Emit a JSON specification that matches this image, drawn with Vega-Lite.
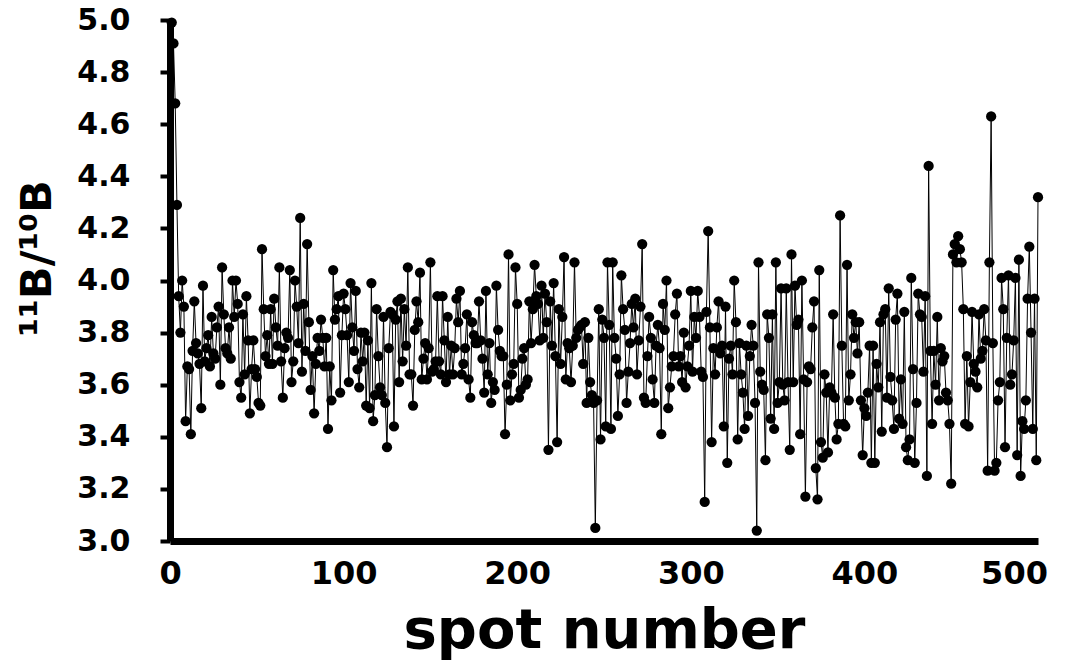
{
"$schema":"https://vega.github.io/schema/vega-lite/v6.json",
"width":868,"height":521,"autosize":"none",
"padding":{"left":170,"top":20,"right":39,"bottom":123},
"config":{"view":{"stroke":null},"font":"DejaVu Sans"},
"data":{"values":[
{"spot":1,"ratio":4.99},{"spot":2,"ratio":4.91},{"spot":3,"ratio":4.68},{"spot":4,"ratio":4.29},{"spot":5,"ratio":3.94},{"spot":6,"ratio":3.80},{"spot":7,"ratio":4.00},{"spot":8,"ratio":3.90},{"spot":9,"ratio":3.46},{"spot":10,"ratio":3.67},
{"spot":11,"ratio":3.66},{"spot":12,"ratio":3.41},{"spot":13,"ratio":3.73},{"spot":14,"ratio":3.92},{"spot":15,"ratio":3.76},{"spot":16,"ratio":3.72},{"spot":17,"ratio":3.68},{"spot":18,"ratio":3.51},{"spot":19,"ratio":3.98},{"spot":20,"ratio":3.69},
{"spot":21,"ratio":3.74},{"spot":22,"ratio":3.79},{"spot":23,"ratio":3.67},{"spot":24,"ratio":3.86},{"spot":25,"ratio":3.72},{"spot":26,"ratio":3.70},{"spot":27,"ratio":3.82},{"spot":28,"ratio":3.90},{"spot":29,"ratio":3.60},{"spot":30,"ratio":4.05},
{"spot":31,"ratio":3.87},{"spot":32,"ratio":3.74},{"spot":33,"ratio":3.72},{"spot":34,"ratio":3.82},{"spot":35,"ratio":3.70},{"spot":36,"ratio":4.00},{"spot":37,"ratio":3.86},{"spot":38,"ratio":4.00},{"spot":39,"ratio":3.91},{"spot":40,"ratio":3.61},
{"spot":41,"ratio":3.55},{"spot":42,"ratio":3.87},{"spot":43,"ratio":3.64},{"spot":44,"ratio":3.94},{"spot":45,"ratio":3.77},{"spot":46,"ratio":3.49},{"spot":47,"ratio":3.66},
{"spot":48,"ratio":3.77},{"spot":49,"ratio":3.66},{"spot":50,"ratio":3.63},{"spot":51,"ratio":3.53},{"spot":52,"ratio":3.52},{"spot":53,"ratio":4.12},{"spot":54,"ratio":3.89},{"spot":55,"ratio":3.71},{"spot":56,"ratio":3.79},{"spot":57,"ratio":3.68},
{"spot":58,"ratio":3.89},{"spot":59,"ratio":3.68},{"spot":60,"ratio":3.93},{"spot":61,"ratio":3.82},{"spot":62,"ratio":3.75},{"spot":63,"ratio":4.05},{"spot":64,"ratio":3.69},{"spot":65,"ratio":3.55},{"spot":66,"ratio":3.74},{"spot":67,"ratio":3.80},
{"spot":68,"ratio":3.78},{"spot":69,"ratio":4.04},{"spot":70,"ratio":3.61},{"spot":71,"ratio":3.69},{"spot":72,"ratio":4.00},{"spot":73,"ratio":3.90},{"spot":74,"ratio":3.76},{"spot":75,"ratio":4.24},{"spot":76,"ratio":3.65},{"spot":77,"ratio":3.91},
{"spot":78,"ratio":3.73},{"spot":79,"ratio":4.14},{"spot":80,"ratio":3.84},{"spot":81,"ratio":3.58},{"spot":82,"ratio":3.71},{"spot":83,"ratio":3.49},{"spot":84,"ratio":3.68},{"spot":85,"ratio":3.78},{"spot":86,"ratio":3.73},{"spot":87,"ratio":3.85},
{"spot":88,"ratio":3.78},{"spot":89,"ratio":3.67},{"spot":90,"ratio":3.78},{"spot":91,"ratio":3.43},{"spot":92,"ratio":3.67},{"spot":93,"ratio":3.54},{"spot":94,"ratio":4.04},{"spot":95,"ratio":3.85},{"spot":96,"ratio":3.89},{"spot":97,"ratio":3.94},
{"spot":98,"ratio":3.57},{"spot":99,"ratio":3.79},
{"spot":100,"ratio":3.95},{"spot":101,"ratio":3.89},{"spot":102,"ratio":3.79},{"spot":103,"ratio":3.61},{"spot":104,"ratio":3.99},{"spot":105,"ratio":3.82},{"spot":106,"ratio":3.73},{"spot":107,"ratio":3.96},{"spot":108,"ratio":3.66},{"spot":109,"ratio":3.59},
{"spot":110,"ratio":3.80},{"spot":111,"ratio":3.69},{"spot":112,"ratio":3.80},{"spot":113,"ratio":3.52},{"spot":114,"ratio":3.77},{"spot":115,"ratio":3.51},{"spot":116,"ratio":3.99},{"spot":117,"ratio":3.46},{"spot":118,"ratio":3.56},{"spot":119,"ratio":3.89},
{"spot":120,"ratio":3.71},{"spot":121,"ratio":3.59},{"spot":122,"ratio":3.56},{"spot":123,"ratio":3.86},{"spot":124,"ratio":3.53},{"spot":125,"ratio":3.36},{"spot":126,"ratio":3.74},{"spot":127,"ratio":3.88},{"spot":128,"ratio":3.87},{"spot":129,"ratio":3.44},
{"spot":130,"ratio":3.85},{"spot":131,"ratio":3.92},{"spot":132,"ratio":3.61},{"spot":133,"ratio":3.93},{"spot":134,"ratio":3.69},{"spot":135,"ratio":3.89},{"spot":136,"ratio":3.75},{"spot":137,"ratio":4.05},{"spot":138,"ratio":3.64},{"spot":139,"ratio":3.64},
{"spot":140,"ratio":3.52},{"spot":141,"ratio":3.81},{"spot":142,"ratio":3.92},{"spot":143,"ratio":3.84},{"spot":144,"ratio":4.03},{"spot":145,"ratio":3.62},{"spot":146,"ratio":3.70},{"spot":147,"ratio":3.76},{"spot":148,"ratio":3.62},{"spot":149,"ratio":3.74},
{"spot":150,"ratio":4.07},
{"spot":151,"ratio":3.65},{"spot":152,"ratio":3.66},{"spot":153,"ratio":3.69},{"spot":154,"ratio":3.94},{"spot":155,"ratio":3.69},{"spot":156,"ratio":3.64},{"spot":157,"ratio":3.94},{"spot":158,"ratio":3.77},{"spot":159,"ratio":3.61},{"spot":160,"ratio":3.86},
{"spot":161,"ratio":3.64},{"spot":162,"ratio":3.75},{"spot":163,"ratio":3.64},{"spot":164,"ratio":3.74},{"spot":165,"ratio":3.93},{"spot":166,"ratio":3.84},{"spot":167,"ratio":3.96},{"spot":168,"ratio":3.64},{"spot":169,"ratio":3.68},{"spot":170,"ratio":3.74},
{"spot":171,"ratio":3.87},{"spot":172,"ratio":3.62},{"spot":173,"ratio":3.55},{"spot":174,"ratio":3.84},{"spot":175,"ratio":3.79},{"spot":176,"ratio":3.76},{"spot":177,"ratio":3.76},{"spot":178,"ratio":3.92},{"spot":179,"ratio":3.77},{"spot":180,"ratio":3.70},
{"spot":181,"ratio":3.57},{"spot":182,"ratio":3.96},{"spot":183,"ratio":3.64},{"spot":184,"ratio":3.76},{"spot":185,"ratio":3.53},{"spot":186,"ratio":3.61},{"spot":187,"ratio":3.58},{"spot":188,"ratio":3.98},{"spot":189,"ratio":3.81},{"spot":190,"ratio":3.73},
{"spot":191,"ratio":3.71},{"spot":192,"ratio":3.71},{"spot":193,"ratio":3.41},{"spot":194,"ratio":3.60},{"spot":195,"ratio":4.10},{"spot":196,"ratio":3.54},{"spot":197,"ratio":3.64},{"spot":198,"ratio":3.68},{"spot":199,"ratio":4.05},{"spot":200,"ratio":3.91},
{"spot":201,"ratio":3.55},
{"spot":202,"ratio":3.58},{"spot":203,"ratio":3.70},{"spot":204,"ratio":3.74},{"spot":205,"ratio":3.60},{"spot":206,"ratio":3.62},{"spot":207,"ratio":3.92},{"spot":208,"ratio":3.76},{"spot":209,"ratio":3.89},{"spot":210,"ratio":4.06},{"spot":211,"ratio":3.94},
{"spot":212,"ratio":3.91},{"spot":213,"ratio":3.77},{"spot":214,"ratio":3.98},{"spot":215,"ratio":3.78},{"spot":216,"ratio":3.95},{"spot":217,"ratio":3.84},{"spot":218,"ratio":3.35},{"spot":219,"ratio":3.92},{"spot":220,"ratio":3.75},{"spot":221,"ratio":3.99},
{"spot":222,"ratio":3.71},{"spot":223,"ratio":3.38},{"spot":224,"ratio":3.89},{"spot":225,"ratio":3.68},{"spot":226,"ratio":3.86},{"spot":227,"ratio":4.09},{"spot":228,"ratio":3.62},{"spot":229,"ratio":3.76},{"spot":230,"ratio":3.74},{"spot":231,"ratio":3.61},
{"spot":232,"ratio":3.75},{"spot":233,"ratio":4.07},{"spot":234,"ratio":3.78},{"spot":235,"ratio":3.81},{"spot":236,"ratio":3.82},{"spot":237,"ratio":3.83},{"spot":238,"ratio":3.68},{"spot":239,"ratio":3.84},{"spot":240,"ratio":3.53},{"spot":241,"ratio":3.78},
{"spot":242,"ratio":3.61},{"spot":243,"ratio":3.56},{"spot":244,"ratio":3.53},{"spot":245,"ratio":3.05},{"spot":246,"ratio":3.54},{"spot":247,"ratio":3.89},{"spot":248,"ratio":3.39},{"spot":249,"ratio":3.85},{"spot":250,"ratio":3.78},{"spot":251,"ratio":3.44},
{"spot":252,"ratio":4.07},
{"spot":253,"ratio":3.83},{"spot":254,"ratio":3.43},{"spot":255,"ratio":4.07},{"spot":256,"ratio":3.78},{"spot":257,"ratio":3.70},{"spot":258,"ratio":3.48},{"spot":259,"ratio":3.64},{"spot":260,"ratio":4.02},{"spot":261,"ratio":3.89},{"spot":262,"ratio":3.81},
{"spot":263,"ratio":3.53},{"spot":264,"ratio":3.65},{"spot":265,"ratio":3.76},{"spot":266,"ratio":3.91},{"spot":267,"ratio":3.82},{"spot":268,"ratio":3.93},{"spot":269,"ratio":3.64},{"spot":270,"ratio":3.77},{"spot":271,"ratio":3.90},{"spot":272,"ratio":4.14},
{"spot":273,"ratio":3.55},{"spot":274,"ratio":3.53},{"spot":275,"ratio":3.71},{"spot":276,"ratio":3.86},{"spot":277,"ratio":3.78},{"spot":278,"ratio":3.62},{"spot":279,"ratio":3.53},{"spot":280,"ratio":3.75},{"spot":281,"ratio":3.83},{"spot":282,"ratio":3.74},
{"spot":283,"ratio":3.41},{"spot":284,"ratio":3.91},{"spot":285,"ratio":3.81},{"spot":286,"ratio":4.00},{"spot":287,"ratio":3.51},{"spot":288,"ratio":3.59},{"spot":289,"ratio":3.67},{"spot":290,"ratio":3.71},{"spot":291,"ratio":3.87},{"spot":292,"ratio":3.95},
{"spot":293,"ratio":3.67},{"spot":294,"ratio":3.71},{"spot":295,"ratio":3.61},{"spot":296,"ratio":3.80},{"spot":297,"ratio":3.59},{"spot":298,"ratio":3.67},{"spot":299,"ratio":3.75},{"spot":300,"ratio":3.96},{"spot":301,"ratio":3.65},{"spot":302,"ratio":3.86},
{"spot":303,"ratio":3.78},{"spot":304,"ratio":3.96},{"spot":305,"ratio":3.86},{"spot":306,"ratio":3.65},{"spot":307,"ratio":3.63},{"spot":308,"ratio":3.15},{"spot":309,"ratio":3.88},{"spot":310,"ratio":4.19},{"spot":311,"ratio":3.82},{"spot":312,"ratio":3.38},
{"spot":313,"ratio":3.74},{"spot":314,"ratio":3.64},{"spot":315,"ratio":3.82},{"spot":316,"ratio":3.92},{"spot":317,"ratio":3.72},{"spot":318,"ratio":3.75},{"spot":319,"ratio":3.44},{"spot":320,"ratio":3.90},{"spot":321,"ratio":3.30},{"spot":322,"ratio":3.70},
{"spot":323,"ratio":3.75},{"spot":324,"ratio":3.64},{"spot":325,"ratio":4.00},{"spot":326,"ratio":3.84},{"spot":327,"ratio":3.39},{"spot":328,"ratio":3.76},{"spot":329,"ratio":3.64},{"spot":330,"ratio":3.57},{"spot":331,"ratio":3.43},{"spot":332,"ratio":3.75},
{"spot":333,"ratio":3.48},{"spot":334,"ratio":3.71},{"spot":335,"ratio":3.83},{"spot":336,"ratio":3.75},{"spot":337,"ratio":3.53},{"spot":338,"ratio":3.04},{"spot":339,"ratio":4.07},{"spot":340,"ratio":3.65},{"spot":341,"ratio":3.60},{"spot":342,"ratio":3.58},
{"spot":343,"ratio":3.31},{"spot":344,"ratio":3.87},{"spot":345,"ratio":3.78},{"spot":346,"ratio":3.47},{"spot":347,"ratio":3.87},{"spot":348,"ratio":3.43},{"spot":349,"ratio":4.07},{"spot":350,"ratio":3.53},{"spot":351,"ratio":3.61},{"spot":352,"ratio":3.97},
{"spot":353,"ratio":3.60},
{"spot":354,"ratio":3.54},{"spot":355,"ratio":3.97},{"spot":356,"ratio":3.61},{"spot":357,"ratio":3.35},{"spot":358,"ratio":4.10},{"spot":359,"ratio":3.61},{"spot":360,"ratio":3.98},{"spot":361,"ratio":3.83},{"spot":362,"ratio":3.85},{"spot":363,"ratio":3.41},
{"spot":364,"ratio":4.00},{"spot":365,"ratio":3.62},{"spot":366,"ratio":3.17},{"spot":367,"ratio":3.61},{"spot":368,"ratio":3.67},{"spot":369,"ratio":3.66},{"spot":370,"ratio":3.82},{"spot":371,"ratio":3.92},{"spot":372,"ratio":3.28},{"spot":373,"ratio":3.16},
{"spot":374,"ratio":4.04},{"spot":375,"ratio":3.38},{"spot":376,"ratio":3.32},{"spot":377,"ratio":3.64},{"spot":378,"ratio":3.57},{"spot":379,"ratio":3.34},{"spot":380,"ratio":3.59},{"spot":381,"ratio":3.57},{"spot":382,"ratio":3.87},{"spot":383,"ratio":3.55},
{"spot":384,"ratio":3.39},{"spot":385,"ratio":3.45},{"spot":386,"ratio":4.25},{"spot":387,"ratio":3.75},{"spot":388,"ratio":3.45},{"spot":389,"ratio":3.44},{"spot":390,"ratio":4.06},{"spot":391,"ratio":3.54},{"spot":392,"ratio":3.64},{"spot":393,"ratio":3.87},
{"spot":394,"ratio":3.78},{"spot":395,"ratio":3.84},{"spot":396,"ratio":3.72},{"spot":397,"ratio":3.84},{"spot":398,"ratio":3.54},{"spot":399,"ratio":3.33},{"spot":400,"ratio":3.51},{"spot":401,"ratio":3.48},{"spot":402,"ratio":3.57},{"spot":403,"ratio":3.75},
{"spot":404,"ratio":3.30},
{"spot":405,"ratio":3.75},{"spot":406,"ratio":3.30},{"spot":407,"ratio":3.68},{"spot":408,"ratio":3.59},{"spot":409,"ratio":3.84},{"spot":410,"ratio":3.42},{"spot":411,"ratio":3.87},{"spot":412,"ratio":3.89},{"spot":413,"ratio":3.55},{"spot":414,"ratio":3.97},
{"spot":415,"ratio":3.63},{"spot":416,"ratio":3.54},{"spot":417,"ratio":3.43},{"spot":418,"ratio":3.85},{"spot":419,"ratio":3.95},{"spot":420,"ratio":3.47},{"spot":421,"ratio":3.62},{"spot":422,"ratio":3.45},{"spot":423,"ratio":3.88},{"spot":424,"ratio":3.36},
{"spot":425,"ratio":3.31},{"spot":426,"ratio":3.39},{"spot":427,"ratio":4.01},{"spot":428,"ratio":3.66},{"spot":429,"ratio":3.30},{"spot":430,"ratio":3.53},{"spot":431,"ratio":3.95},{"spot":432,"ratio":3.87},{"spot":433,"ratio":3.86},{"spot":434,"ratio":3.65},
{"spot":435,"ratio":3.94},{"spot":436,"ratio":3.25},{"spot":437,"ratio":4.44},{"spot":438,"ratio":3.73},{"spot":439,"ratio":3.45},{"spot":440,"ratio":3.73},{"spot":441,"ratio":3.60},{"spot":442,"ratio":3.86},{"spot":443,"ratio":3.54},{"spot":444,"ratio":3.74},
{"spot":445,"ratio":3.69},{"spot":446,"ratio":3.71},{"spot":447,"ratio":3.57},{"spot":448,"ratio":3.54},{"spot":449,"ratio":3.45},{"spot":450,"ratio":3.22},{"spot":451,"ratio":4.10},{"spot":452,"ratio":4.14},{"spot":453,"ratio":4.07},{"spot":454,"ratio":4.17},
{"spot":455,"ratio":4.12},{"spot":456,"ratio":4.07},{"spot":457,"ratio":3.89},{"spot":458,"ratio":3.45},{"spot":459,"ratio":3.71},{"spot":460,"ratio":3.44},{"spot":461,"ratio":3.61},{"spot":462,"ratio":3.88},{"spot":463,"ratio":3.68},{"spot":464,"ratio":3.65},
{"spot":465,"ratio":3.59},{"spot":466,"ratio":3.87},{"spot":467,"ratio":3.70},{"spot":468,"ratio":3.73},{"spot":469,"ratio":3.89},{"spot":470,"ratio":3.77},{"spot":471,"ratio":3.27},{"spot":472,"ratio":4.07},{"spot":473,"ratio":4.63},{"spot":474,"ratio":3.76},
{"spot":475,"ratio":3.27},{"spot":476,"ratio":3.30},{"spot":477,"ratio":3.54},{"spot":478,"ratio":3.61},{"spot":479,"ratio":4.01},{"spot":480,"ratio":3.89},{"spot":481,"ratio":3.36},{"spot":482,"ratio":3.78},{"spot":483,"ratio":4.02},{"spot":484,"ratio":3.60},
{"spot":485,"ratio":3.64},{"spot":486,"ratio":3.77},{"spot":487,"ratio":4.01},{"spot":488,"ratio":3.33},{"spot":489,"ratio":4.08},{"spot":490,"ratio":3.25},{"spot":491,"ratio":3.46},{"spot":492,"ratio":3.43},{"spot":493,"ratio":3.54},{"spot":494,"ratio":3.93},
{"spot":495,"ratio":4.13},{"spot":496,"ratio":3.80},{"spot":497,"ratio":3.43},{"spot":498,"ratio":3.93},{"spot":499,"ratio":3.31},{"spot":500,"ratio":4.32}
]},
"encoding":{
"x":{"field":"spot","type":"quantitative","scale":{"domain":[0,500],"nice":false,"zero":false},
"axis":{"title":"spot number","values":[0,100,200,300,400,500],"grid":false,"ticks":false,"domainColor":"black","domainWidth":7,"labelFontWeight":"bold","labelFontSize":32,"labelColor":"black","labelPadding":17,"labelFlush":false,"labelOffset":{"condition":{"test":"datum.value === 500","value":-24},"value":0},"titleFontSize":56,"titleFontWeight":"bold","titleColor":"black","titleBaseline":"alphabetic","titleY":106}},
"y":{"field":"ratio","type":"quantitative","scale":{"domain":[3,5],"nice":false,"zero":false},
"axis":{"title":"¹¹B/¹⁰B","values":[3,3.2,3.4,3.6,3.8,4,4.2,4.4,4.6,4.8,5],"format":".1f","grid":false,"tickSize":10,"tickWidth":4,"tickColor":"black","domainColor":"black","domainWidth":7,"labelFontWeight":"bold","labelFontSize":30,"labelColor":"black","labelPadding":30,"labelFlush":false,"titleFontSize":43,"titleFontWeight":"bold","titleColor":"black","titleAngle":-90,"titleX":-120,"titleY":238,"titleBaseline":"alphabetic","titleAlign":"center"}}
},
"layer":[
{"mark":{"type":"line","color":"black","strokeWidth":1}},
{"mark":{"type":"circle","color":"black","opacity":1,"size":105}}
]
}
